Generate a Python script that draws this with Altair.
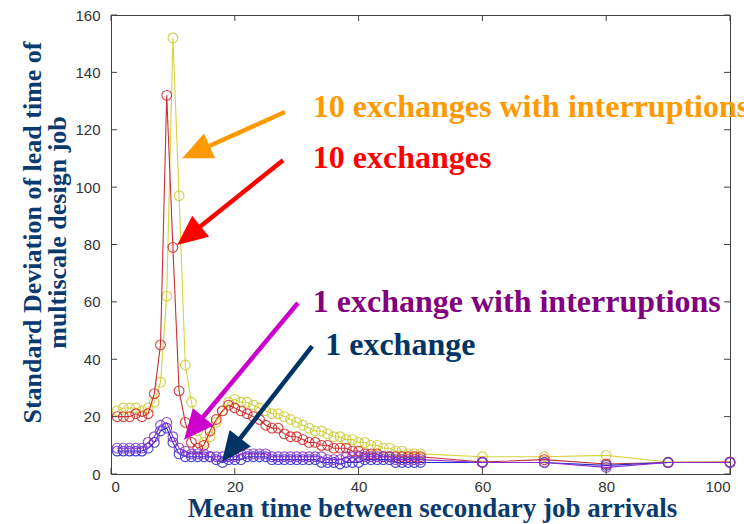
import math

import altair as alt
import pandas as pd

# Mean time between secondary job arrivals
x_vals = list(range(1, 51)) + [60, 70, 80, 90, 100]

# Standard deviation of lead time for each exchange scenario
sd_10_interrupt = [22, 23, 23, 23, 22, 23, 25, 32, 62, 152,
                   97, 38, 25, 15, 11, 13, 18, 22, 25, 26,
                   25, 25, 24, 23, 22, 21, 21, 20, 19, 18,
                   17, 16, 15, 15, 14, 13, 13, 12, 12, 11,
                   11, 10, 10, 9, 9, 8, 8, 7, 7, 7,
                   6, 6, 6.5, 4.2, 4.2]
sd_10 = [20, 20, 20, 21, 20, 21, 28, 45, 132, 79,
         29, 18, 11, 9, 10, 15, 19, 22, 24, 23,
         22, 21, 20, 19, 17, 16, 16, 14, 13, 13,
         12, 11, 11, 10, 10, 9, 9, 9, 8, 8,
         7, 7, 7, 6, 6, 6, 6, 6, 6, 6,
         4.2, 5, 3.5, 4, 4.2]
sd_1 = [8, 8, 8, 8, 8, 9, 11, 15, 16, 11,
        7, 6, 6, 6, 6, 6, 5, 4, 5, 5,
        5, 6, 6, 6, 6, 5, 5, 5, 5, 5,
        5, 5, 5, 4, 4, 4, 3.5, 4, 4, 4,
        5, 5, 5, 5, 5, 4, 4, 4, 4, 4,
        4, 4, 3, 4, 4]
sd_1_interrupt = [9, 9, 9, 9, 9, 11, 13, 17, 18, 13,
                  9, 8, 7, 7, 7, 6, 6, 6, 6, 6,
                  7, 7, 7, 7, 7, 6, 6, 6, 6, 6,
                  6, 6, 6, 6, 5, 5, 5, 6, 6, 6,
                  6, 6, 6, 6, 6, 5, 5, 5, 5, 5,
                  4, 4, 2.3, 4, 4]

series_values = [sd_10_interrupt, sd_10, sd_1, sd_1_interrupt]
line_colors = ["#d4d43c", "#c43038", "#2c2ccc", "#8a2ad0"]
marker_colors = ["#cccc38", "#d42a2a", "#3030d0", "#8833cc"]

x_ticks = [0, 20, 40, 60, 80, 100]
y_ticks = [0, 20, 40, 60, 80, 100, 120, 140, 160]

# Annotation labels and the arrows pointing at each curve (data units)
label_texts = ["10 exchanges with interruptions", "10 exchanges",
               "1 exchange with interruptions", "1 exchange"]
label_colors = ["#ff9900", "#ff0000", "#800080", "#003366"]
label_x = [32.6, 32.6, 32.6, 34.6]
label_y = [124.4, 106.7, 56.5, 41.5]

arrow_colors = ["#ff9900", "#ff0000", "#cc00cc", "#003366"]
arrow_tail_x = [28.1, 27.8, 30.2, 32.5]
arrow_tail_y = [126.2, 109.4, 59.6, 44.6]
arrow_tip_x = [11.5, 10.7, 11.8, 17.9]
arrow_tip_y = [110.1, 79.8, 11.9, 4.2]

W, H = 619, 459
X_MAX, Y_MAX = 100, 160
TICK_LEN = 6
HEAD_LEN = 30
AXIS_COLOR = "#404040"
TITLE_COLOR = "#0b3a6e"

x_scale = alt.Scale(domain=[0, X_MAX], nice=False, zero=False)
y_scale = alt.Scale(domain=[0, Y_MAX], nice=False, zero=False)

x_axis = alt.Axis(
    values=x_ticks, ticks=False, grid=False, labelPadding=5,
    title="Mean time between secondary job arrivals",
    titleX=321, titleY=42, titleBaseline="alphabetic", titleAlign="center",
    titleFont="Liberation Serif", titleFontWeight="bold", titleFontSize=27,
    titleColor=TITLE_COLOR,
)
y_axis = alt.Axis(
    values=y_ticks, ticks=False, grid=False, labelPadding=11,
    title=["Standard Deviation of lead time of", "multiscale design job"],
    titleAngle=270, titleX=-92, titleY=217, titleBaseline="top",
    titleAlign="center", titleLineHeight=25,
    titleFont="Liberation Serif", titleFontWeight="bold", titleFontSize=26,
    titleColor=TITLE_COLOR,
)

X = alt.X("x:Q", scale=x_scale, axis=x_axis)
Y = alt.Y("y:Q", scale=y_scale, axis=y_axis)

layers = []

# Data series: thin line plus open circle markers
for vals, lc, mc in zip(series_values, line_colors, marker_colors):
    df = pd.DataFrame({"x": x_vals, "y": vals})
    base = alt.Chart(df).encode(x=X, y=Y)
    layers.append(base.mark_line(color=lc, strokeWidth=1.1))
    layers.append(base.mark_point(shape="circle", filled=False, color=mc,
                                  size=95, strokeWidth=1.1, opacity=0.9))

# Inward tick marks on all four sides of the box
xt = pd.DataFrame({"x": x_ticks})
yt = pd.DataFrame({"y": y_ticks})
layers.append(alt.Chart(xt).mark_rule(color=AXIS_COLOR).encode(
    x=X, y=alt.value(H), y2=alt.value(H - TICK_LEN)))
layers.append(alt.Chart(xt).mark_rule(color=AXIS_COLOR).encode(
    x=X, y=alt.value(0), y2=alt.value(TICK_LEN)))
layers.append(alt.Chart(yt).mark_rule(color=AXIS_COLOR).encode(
    y=Y, x=alt.value(0), x2=alt.value(TICK_LEN)))
layers.append(alt.Chart(yt).mark_rule(color=AXIS_COLOR).encode(
    y=Y, x=alt.value(W), x2=alt.value(W - TICK_LEN)))

# Arrows: shaft + triangular head rotated along the shaft direction
sx, sy = W / X_MAX, H / Y_MAX
shaft_rows, head_rows = [], []
for c, tx, ty, hx, hy in zip(arrow_colors, arrow_tail_x, arrow_tail_y,
                             arrow_tip_x, arrow_tip_y):
    dxp = (hx - tx) * sx
    dyp = -(hy - ty) * sy
    length = math.hypot(dxp, dyp)
    ux, uy = dxp / length, dyp / length
    angle = math.degrees(math.atan2(ux, -uy)) % 360
    # head centre sits half a head-length back from the tip
    cx = hx - ux * HEAD_LEN / 2 / sx
    cy = hy + uy * HEAD_LEN / 2 / sy
    # shaft stops inside the head so the tip stays sharp
    ex = hx - ux * HEAD_LEN * 0.6 / sx
    ey = hy + uy * HEAD_LEN * 0.6 / sy
    shaft_rows.append({"x": tx, "y": ty, "x2": ex, "y2": ey, "c": c})
    head_rows.append({"x": cx, "y": cy, "a": angle, "c": c})

shafts = pd.DataFrame(shaft_rows)
heads = pd.DataFrame(head_rows)
layers.append(alt.Chart(shafts).mark_rule(strokeWidth=4.5).encode(
    x=X, y=Y, x2="x2:Q", y2="y2:Q",
    color=alt.Color("c:N", scale=None)))
layers.append(alt.Chart(heads).mark_point(
    shape="M 0 -1 L 0.9 1 L -0.9 1 Z", filled=True, opacity=1,
    size=HEAD_LEN * HEAD_LEN, strokeWidth=0).encode(
    x=X, y=Y, angle=alt.Angle("a:Q", scale=None),
    color=alt.Color("c:N", scale=None)))

# Text annotations naming each curve
labels = pd.DataFrame({"x": label_x, "y": label_y, "t": label_texts,
                       "c": label_colors})
layers.append(alt.Chart(labels).mark_text(
    align="left", baseline="alphabetic", font="Liberation Serif",
    fontWeight="bold", fontSize=32).encode(
    x=X, y=Y, text="t:N", color=alt.Color("c:N", scale=None)))

chart = alt.layer(*layers).properties(
    width=W, height=H,
    autosize=alt.AutoSizeParams(type="none"),
    padding={"left": 111, "top": 15, "right": 14, "bottom": 50},
    background="white",
).configure_view(
    stroke=AXIS_COLOR, strokeWidth=1
).configure_axis(
    domainColor=AXIS_COLOR, domainWidth=1,
    labelFont="Liberation Sans", labelFontSize=15, labelColor="#333333",
)

chart.save("out.html", embed_options={"renderer": "svg", "actions": False})
